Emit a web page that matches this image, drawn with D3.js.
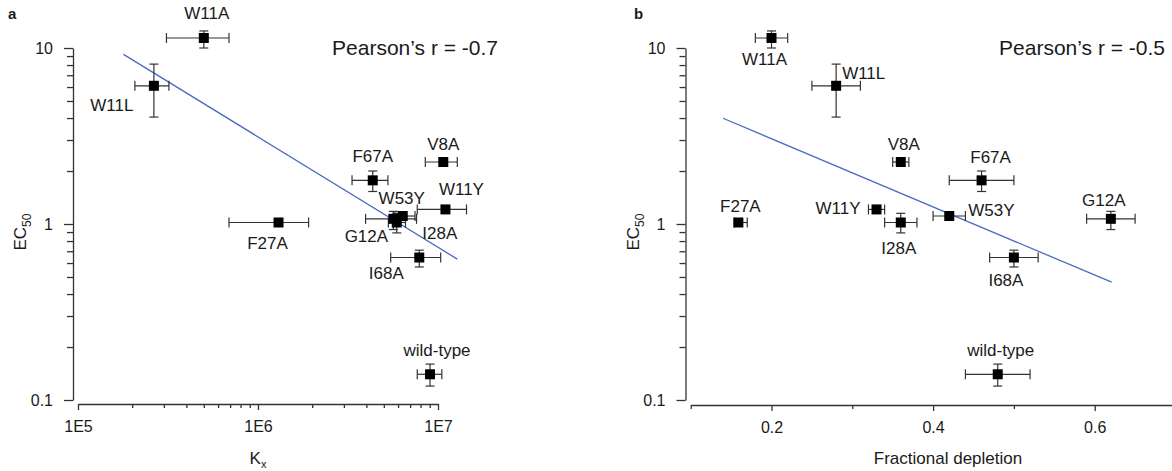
<!DOCTYPE html>
<html>
<head>
<meta charset="utf-8">
<script src="https://cdn.jsdelivr.net/npm/d3@7"></script>
<style>
  body { margin: 0; background: #fff; }
  text { font-family: Arial, "Liberation Sans", sans-serif; fill: #1a1a1a; }
  .axis path, .axis line { stroke: #333; stroke-width: 1.3; }
  .axis text { font-size: 16px; fill: #1a1a1a; }
</style>
</head>
<body>
<svg id="chart" width="1172" height="471"></svg>
<script>
// mutants, same order in both panels
var mutants = ["W11A", "W11L", "V8A", "F67A", "W11Y", "W53Y", "G12A", "I28A", "F27A", "I68A", "wild-type"];

// EC50 (shared y values) with error range
var ec50   = [11.4, 6.1, 2.25, 1.77, 1.21, 1.11, 1.07, 1.02, 1.02, 0.645, 0.14];
var ec50Lo = [10.0, 4.05, 2.25, 1.53, 1.21, 1.11, 0.93, 0.89, 1.02, 0.57, 0.12];
var ec50Hi = [12.5, 8.1, 2.25, 2.0, 1.21, 1.11, 1.18, 1.15, 1.02, 0.71, 0.16];

// panel a: Kx
var kx   = [5.0e5, 2.64e5, 1.07e7, 4.34e6, 1.10e7, 6.37e6, 5.65e6, 5.9e6, 1.30e6, 7.87e6, 9.03e6];
var kxLo = [3.1e5, 2.07e5, 8.5e6, 3.33e6, 7.67e6, 5.77e6, 3.96e6, 5.3e6, 6.9e5, 5.46e6, 7.67e6];
var kxHi = [6.9e5, 3.2e5, 1.28e7, 5.27e6, 1.44e7, 7.45e6, 7.6e6, 6.6e6, 1.91e6, 1.035e7, 1.05e7];

// panel b: fractional depletion
var dep   = [0.20, 0.28, 0.36, 0.46, 0.33, 0.42, 0.62, 0.36, 0.159, 0.50, 0.48];
var depLo = [0.18, 0.25, 0.35, 0.42, 0.32, 0.40, 0.59, 0.34, 0.154, 0.47, 0.44];
var depHi = [0.22, 0.31, 0.37, 0.50, 0.34, 0.44, 0.65, 0.38, 0.170, 0.53, 0.52];

// regression lines (end points)
var fitAx = [1.79e5, 1.28e7], fitAy = [9.2, 0.632];
var fitBx = [0.14, 0.621],    fitBy = [3.99, 0.467];

var pearsonA = "Pearson\u2019s r = -0.7";
var pearsonB = "Pearson\u2019s r = -0.5";

// label offsets from point centre [dx, dy, anchor]
var labA = [[3,-23,"middle"],[-42,21,"middle"],[0,-17,"middle"],[0,-23,"middle"],[16,-19,"middle"],
            [-1,-17,"middle"],[-27,19,"middle"],[43,12,"middle"],[-11,22,"middle"],[-33,17,"middle"],[7,-23,"middle"]];
var labB = [[-7,23,"middle"],[6,-11,"start"],[3,-17,"middle"],[9,-22,"middle"],[-16,0,"end"],
            [19,-5,"start"],[-7,-17,"middle"],[-2,27,"middle"],[2,-15,"middle"],[-8,24,"middle"],[3,-23,"middle"]];

var svg = d3.select("#chart");

function drawPanel(o) {
    var g = svg.append("g");
    var y = d3.scaleLog().domain([0.1, 10]).range([400, 48]);
    var x = o.x;

    // y axis
    g.append("g").attr("class", "axis").attr("transform", "translate(" + o.yAxisX + ",0)")
        .call(d3.axisLeft(y).tickValues([0.1, 1, 10]).tickFormat(function (d) { return d; })
            .tickSize(9).tickSizeOuter(0).tickPadding(11));
    var minorY = [];
    [0.1, 1].forEach(function (b) { for (var k = 2; k < 10; k++) minorY.push(b * k); });
    g.append("g").attr("class", "axis").attr("transform", "translate(" + o.yAxisX + ",0)")
        .call(d3.axisLeft(y).tickValues(minorY).tickFormat("").tickSize(6).tickSizeOuter(0))
        .select(".domain").remove();

    // x axis
    g.append("g").attr("class", "axis").attr("transform", "translate(0," + o.xAxisY + ")")
        .call(d3.axisBottom(x).tickValues(o.xMajor).tickFormat(o.xFormat)
            .tickSize(6).tickSizeOuter(0).tickPadding(11));
    g.append("g").attr("class", "axis").attr("transform", "translate(0," + o.xAxisY + ")")
        .call(d3.axisBottom(x).tickValues(o.xMinor).tickFormat("").tickSize(4).tickSizeOuter(0))
        .select(".domain").remove();

    // fit line
    g.append("line")
        .attr("x1", x(o.fitX[0])).attr("y1", y(o.fitY[0]))
        .attr("x2", x(o.fitX[1])).attr("y2", y(o.fitY[1]))
        .attr("stroke", "#4a6bc0").attr("stroke-width", 1.3);

    // error bars
    for (var i = 0; i < mutants.length; i++) {
        var cx = x(o.xv[i]), cy = y(ec50[i]);
        var xl = x(o.xlo[i]), xh = x(o.xhi[i]);
        var eb = g.append("g").attr("stroke", "#333").attr("stroke-width", 1.2);
        if (xh - xl > 1) {
            eb.append("line").attr("x1", xl).attr("x2", xh).attr("y1", cy).attr("y2", cy);
            eb.append("line").attr("x1", xl).attr("x2", xl).attr("y1", cy - 5).attr("y2", cy + 5);
            eb.append("line").attr("x1", xh).attr("x2", xh).attr("y1", cy - 5).attr("y2", cy + 5);
        }
        var yl = y(ec50Lo[i]), yh = y(ec50Hi[i]);
        if (yl - yh > 1) {
            eb.append("line").attr("x1", cx).attr("x2", cx).attr("y1", yl).attr("y2", yh);
            eb.append("line").attr("x1", cx - 4.5).attr("x2", cx + 4.5).attr("y1", yl).attr("y2", yl);
            eb.append("line").attr("x1", cx - 4.5).attr("x2", cx + 4.5).attr("y1", yh).attr("y2", yh);
        }
    }

    // markers
    g.selectAll("rect.pt").data(mutants).enter().append("rect").attr("class", "pt")
        .attr("x", function (d, i) { return x(o.xv[i]) - 5; })
        .attr("y", function (d, i) { return y(ec50[i]) - 5; })
        .attr("width", 10).attr("height", 10).attr("fill", "#000");

    // point labels
    g.selectAll("text.lab").data(mutants).enter().append("text").attr("class", "lab")
        .attr("x", function (d, i) { return x(o.xv[i]) + o.lab[i][0]; })
        .attr("y", function (d, i) { return y(ec50[i]) + o.lab[i][1]; })
        .attr("text-anchor", function (d, i) { return o.lab[i][2]; })
        .attr("dominant-baseline", "middle")
        .style("font-size", "17px")
        .text(function (d) { return d; });

    // pearson text
    g.append("text").attr("x", o.pearsonX).attr("y", 55).attr("text-anchor", "end")
        .style("font-size", "21px").text(o.pearson);

    // panel letter
    g.append("text").attr("x", o.letterX).attr("y", 19).style("font-size", "15px")
        .style("font-weight", "bold").text(o.letter);

    // y title EC50
    var yt = g.append("text").attr("transform", "translate(" + (o.yAxisX - 47) + ",232) rotate(-90)")
        .attr("text-anchor", "middle").style("font-size", "17px");
    yt.append("tspan").text("EC");
    yt.append("tspan").attr("dy", 5).style("font-size", "12px").text("50");
}

var xA = d3.scaleLog().domain([1e5, 1e7]).range([78, 438]);
var minorA = [];
[1e5, 1e6].forEach(function (b) { for (var k = 2; k < 10; k++) minorA.push(b * k); });

drawPanel({
    x: xA, xv: kx, xlo: kxLo, xhi: kxHi, fitX: fitAx, fitY: fitAy,
    yAxisX: 73, xAxisY: 404,
    xMajor: [1e5, 1e6, 1e7], xMinor: minorA,
    xFormat: function (d) { return "1E" + Math.round(Math.log10(d)); },
    lab: labA, pearson: pearsonA, pearsonX: 498, letter: "a", letterX: 8
});

var xB = d3.scaleLinear().domain([0.1, 0.7]).range([690.7, 1175.5]);
drawPanel({
    x: xB, xv: dep, xlo: depLo, xhi: depHi, fitX: fitBx, fitY: fitBy,
    yAxisX: 685.5, xAxisY: 405,
    xMajor: [0.2, 0.4, 0.6], xMinor: [0.1, 0.3, 0.5, 0.7],
    xFormat: d3.format(".1f"),
    lab: labB, pearson: pearsonB, pearsonX: 1165, letter: "b", letterX: 634
});

// x titles
var kt = svg.append("text").attr("x", 258).attr("y", 464).attr("text-anchor", "middle").style("font-size", "17px");
kt.append("tspan").text("K");
kt.append("tspan").attr("dy", 4).style("font-size", "11px").text("x");

svg.append("text").attr("x", 948).attr("y", 464).attr("text-anchor", "middle")
    .style("font-size", "17px").text("Fractional depletion");
</script>
</body>
</html>
